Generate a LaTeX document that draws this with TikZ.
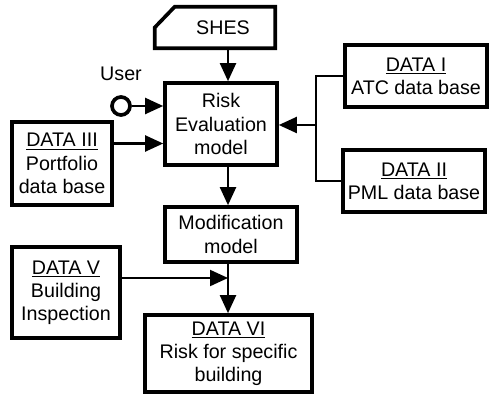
\documentclass[tikz,border=0pt]{standalone}
\usepackage{fontspec}
\setmainfont{Liberation Sans}
\usepackage{tikz}
\usetikzlibrary{arrows.meta, positioning, calc}

\begin{document}
\begin{tikzpicture}[
    font=\fontsize{14}{16.5}\selectfont,
    box/.style={draw, line width=2.6pt, align=center, inner sep=2pt},
    wire/.style={line width=1.5pt},
    arr/.style={wire, -{Triangle[length=0.45cm, width=0.4cm]}}
]
\useasboundingbox (0,0) rectangle (12.25,9.9);
\coordinate (spine) at (5.7,0);
\coordinate (fork) at (7.9,6.775);
\coordinate (joint) at (5.7,2.95);

\node[minimum width=3cm, minimum height=1.025cm] (shes) at (5.375,9.2125) {\hspace*{0.4cm}SHES};
\draw[line width=2.6pt] (shes.south west) -- (shes.south east) -- (shes.north east)
    -- ([xshift=0.5cm]shes.north west) -- ([yshift=-0.52cm]shes.north west) -- cycle;

\node[box, minimum width=2.8cm, minimum height=2.05cm] (risk) at (5.525,6.8) {Risk\\Evaluation\\model};
\node[circle, draw, line width=2.6pt, minimum size=0.45cm, inner sep=0pt] (user) at (3.025,7.25) {};
\node[above=0.25cm of user] (userlbl) {User};
\node[box, minimum width=2.5cm, minimum height=2.075cm] (data3) at (1.55,5.8125) {\underline{DATA III}\\Portfolio\\data base};
\node[box, minimum width=3.55cm, minimum height=1.55cm] (data1) at (10.4,8.0) {\underline{DATA I}\\ATC data base};
\node[box, minimum width=3.55cm, minimum height=1.55cm] (data2) at (10.35,5.375) {\underline{DATA II}\\PML data base};
\node[box, minimum width=3.3cm, minimum height=1.375cm] (mod) at (5.775,4.0375) {Modification\\model};
\node[box, minimum width=2.7cm, minimum height=2.275cm] (data5) at (1.65,2.5875) {\underline{DATA V}\\Building\\Inspection};
\node[box, minimum width=4.175cm, minimum height=1.925cm] (data6) at (5.7125,1.0625) {\underline{DATA VI}\\Risk for specific\\building};

\draw[arr] (shes.south -| spine) -- (risk.north -| spine);
\draw[arr] (user.east) -- (user -| risk.west);
\draw[arr] ([yshift=0.5cm]data3.east) -- ([yshift=0.5cm]data3.east -| risk.west);
\draw[line width=1.1pt] (data1.west) -| (fork) |- (data2.west);
\draw[arr] (fork) -- (fork -| risk.east);
\draw[arr] (risk.south -| spine) -- (mod.north -| spine);
\draw[arr] (mod.south -| spine) -- (data6.north -| spine);
\draw[arr] (data5.east |- joint) -- (joint);
\end{tikzpicture}
\end{document}
